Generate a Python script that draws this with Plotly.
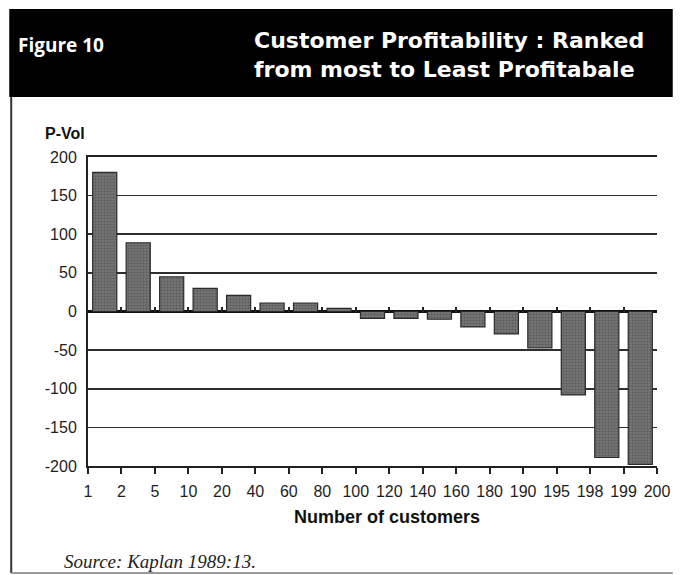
import plotly.graph_objects as go

# ---- data ----
bin_labels = ["1", "2", "5", "10", "20", "40", "60", "80", "100", "120", "140",
              "160", "180", "190", "195", "198", "199", "200"]
pvol = [180, 89, 45, 30, 21, 11, 11, 4, -9, -9, -10, -20, -29, -47, -108, -189, -198]
y_tick_values = [-200, -150, -100, -50, 0, 50, 100, 150, 200]
y_tick_labels = ["-200", "-150", "-100", "-50", "0", "50", "100", "150", "200"]

title_left = "Figure 10"
title_lines = ["Customer Profitability : Ranked", "from most to Least Profitabale"]
y_title = "P-Vol"
x_title = "Number of customers"
source = "Source: Kaplan 1989:13."

# ---- geometry ----
WIDTH, HEIGHT = 682, 575
L, R, T, B = 88, 16, 157, 109
PW = WIDTH - L - R
PH = HEIGHT - T - B


def px(x):
    return (x - L) / PW


def py(y):
    return (HEIGHT - B - y) / PH


n = len(pvol)
xpos = [i + 0.5 for i in range(n)]

fig = go.Figure()
fig.add_trace(go.Bar(
    x=xpos, y=pvol, width=0.72,
    marker=dict(color="#6a6a6a",
                line=dict(color="#2a2a2a", width=1.2),
                pattern=dict(shape=".", fgcolor="#3c3c3c", bgcolor="#767676",
                             size=3, solidity=0.4)),
    showlegend=False, hoverinfo="skip",
))
# helper (empty) trace so the zero-line tick axis is drawn
fig.add_trace(go.Scatter(x=[], y=[], xaxis="x2", yaxis="y",
                         showlegend=False, hoverinfo="skip"))

tick_font = dict(family="Liberation Sans, Arial, sans-serif", size=16, color="#1e1e1e")
head_font = "DejaVu Sans, Open Sans, sans-serif"

fig.update_layout(
    width=WIDTH, height=HEIGHT,
    margin=dict(l=L, r=R, t=T, b=B, pad=0),
    paper_bgcolor="white", plot_bgcolor="white",
    bargap=0,
    xaxis=dict(range=[0, n], tickmode="array",
               tickvals=list(range(len(bin_labels))), ticktext=bin_labels,
               ticks="outside", ticklen=6, tickwidth=2, tickcolor="#222",
               ticklabelstandoff=4,
               showline=True, linecolor="#222", linewidth=2, mirror=True,
               showgrid=False, zeroline=False, tickfont=tick_font,
               fixedrange=True),
    xaxis2=dict(range=[0, n], overlaying="x", anchor="free", position=0.5,
                side="top", tickmode="array",
                tickvals=list(range(1, len(bin_labels) - 1)),
                ticks="outside", ticklen=5, tickwidth=2, tickcolor="#222",
                showticklabels=False, showline=False, showgrid=False,
                zeroline=False),
    yaxis=dict(range=[-200, 200], tickmode="array",
               tickvals=y_tick_values, ticktext=y_tick_labels,
               showgrid=True, gridcolor="#2e2e2e", gridwidth=1.6,
               zeroline=True, zerolinecolor="#111", zerolinewidth=2.2,
               showline=True, linecolor="#222", linewidth=2,
               ticks="", ticklabelstandoff=6, tickfont=tick_font,
               fixedrange=True),
    shapes=[
        # black header band
        dict(type="rect", xref="paper", yref="paper",
             x0=px(8), x1=px(682), y0=py(97), y1=py(9),
             fillcolor="black", line=dict(width=0), layer="above"),
        # page frame: left and bottom edges
        dict(type="line", xref="paper", yref="paper",
             x0=px(10), x1=px(10), y0=py(97), y1=py(573),
             line=dict(color="#333", width=2)),
        dict(type="line", xref="paper", yref="paper",
             x0=px(10), x1=px(682), y0=py(573), y1=py(573),
             line=dict(color="#9a9a9a", width=2)),
    ],
    annotations=[
        dict(text=f"<b>{title_left}</b>", xref="paper", yref="paper",
             x=px(15), y=py(45), xanchor="left", yanchor="middle",
             showarrow=False,
             font=dict(family="Open Sans, sans-serif", size=19, color="white")),
        dict(text="<br>".join(f"<b>{t}</b>" for t in title_lines),
             xref="paper", yref="paper",
             x=px(255), y=py(55), xanchor="left", yanchor="middle",
             align="left", showarrow=False,
             font=dict(family=head_font, size=22, color="white")),
        dict(text=f"<b>{y_title}</b>", xref="paper", yref="paper",
             x=px(42), y=py(133), xanchor="left", yanchor="middle",
             showarrow=False,
             font=dict(family="Liberation Sans Narrow, Arial Narrow, sans-serif",
                       size=16, color="#111")),
        dict(text=f"<b>{x_title}</b>", xref="paper", yref="paper",
             x=px(392), y=py(517), xanchor="center", yanchor="middle",
             showarrow=False,
             font=dict(family="Liberation Sans Narrow, Arial Narrow, sans-serif",
                       size=18, color="#111")),
        dict(text=f"<i>{source}</i>", xref="paper", yref="paper",
             x=px(62), y=py(561), xanchor="left", yanchor="middle",
             showarrow=False,
             font=dict(family="Liberation Serif, Times New Roman, serif",
                       size=19, color="#222")),
    ],
)

fig.write_html(
    "out.html",
    config={"displayModeBar": False, "staticPlot": True},
    post_script="document.body.style.margin='0px';document.body.style.padding='0px';"
                "document.documentElement.style.overflow='hidden';",
)
